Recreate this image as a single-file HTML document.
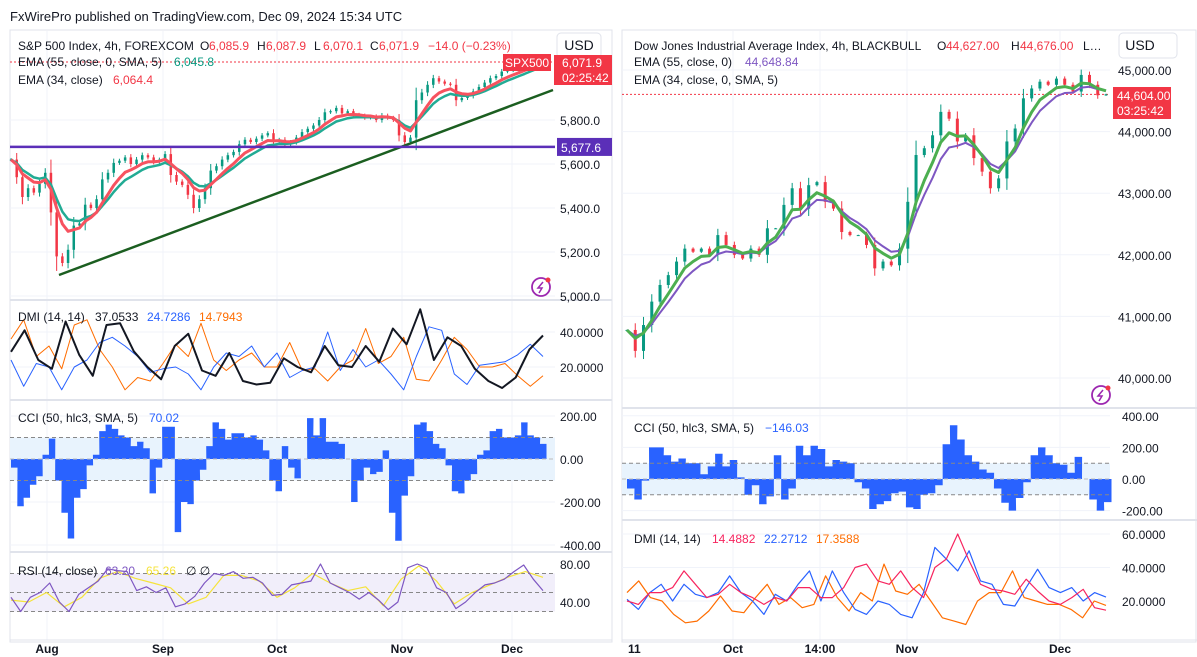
<!DOCTYPE html>
<html><head><meta charset="utf-8">
<style>
html,body{margin:0;padding:0;background:#fff;}
svg{display:block;font-family:"Liberation Sans",sans-serif;}
</style></head>
<body>
<svg id="c" width="1197" height="657" viewBox="0 0 1197 657">
<text x="10" y="21" font-size="13" fill="#131722">FxWirePro published on TradingView.com, Dec 09, 2024 15:34 UTC</text>
<g id="g"></g>
</svg>
<script>
// ---------- DATA ----------
// S&P 500 (left) closes, 4h
const spxClose=[5620,5540,5450,5490,5470,5510,5560,5380,5180,5150,5210,5320,5330,5415,5400,5440,5530,5560,5605,5615,5630,5600,5620,5640,5630,5610,5620,5645,5550,5520,5505,5460,5400,5440,5490,5570,5590,5620,5640,5655,5690,5710,5700,5715,5730,5740,5700,5710,5690,5700,5720,5745,5760,5775,5800,5835,5840,5855,5830,5840,5825,5820,5810,5815,5800,5820,5810,5800,5730,5700,5720,5890,5925,5960,5990,5975,5965,5960,5890,5900,5910,5930,5950,5970,5990,6000,6020,6025,6030,6040,6050,6065,6072];
const spxAdx=[28.7,41,24,19,46,27,15,44,45,29,20,13,32,39,18,15,28,12,10,11,25,20,17,32,21,20,32,23,42,33,53,24,37,32,19,12,8,14,30,38];
const spxPlusDI=[24,9,22,20,7,20,24,34,37,32,26,17,19,20,16,7,20,28,26,32,20,28,14,18,20,40,18,30,20,24,16,7,26,43,41,16,10,21,22,23,27,33,26];
const spxMinusDI=[36,47,26,32,19,44,47,30,20,7,14,12,22,33,26,45,24,18,24,28,20,20,34,18,19,12,20,24,42,22,26,37,13,12,24,37,30,20,20,22,15,9,15];
const spxCci=[-40,-220,-180,-120,-80,20,95,-100,-250,-370,-180,-140,-30,20,130,160,140,110,100,60,80,50,-160,-40,150,150,-340,-200,-210,-100,-50,60,170,140,90,120,120,100,110,90,40,-100,-150,60,-40,-90,0,190,110,190,80,80,70,0,-200,-100,-40,-70,-60,40,-250,-380,-170,-80,160,170,130,70,50,-30,-150,-160,-100,-70,20,40,130,140,100,100,110,170,110,100,70];
const spxRsi=[45,30,45,50,60,40,30,48,55,62,75,73,72,52,56,50,55,35,38,46,60,70,68,72,65,66,60,47,48,58,60,62,80,60,55,50,43,50,42,32,40,76,80,76,55,50,33,40,50,58,60,64,72,79,64,52];
const spxRsiMa=[42,40,50,35,45,65,72,65,60,55,38,45,68,68,62,45,55,70,60,52,56,36,64,78,62,38,50,58,66,72,66];
const spxTicks=[5800,5600,5400,5200,5000];
const spxTickLabels=["5,800.0","5,600.0","5,400.0","5,200.0","5,000.0"];
const spxLevel=5677.6;
const leftDates=["Aug","Sep","Oct","Nov","Dec"];
// Dow Jones (right)
const djiClose=[40780,40440,40860,41240,41510,41670,41890,42100,42050,42100,42000,42320,42160,42000,41940,42100,42000,42430,42430,42810,43080,42750,43130,43180,42860,42750,42370,42320,42320,42160,41780,41890,41830,42100,42860,43620,43730,43940,44320,44210,43840,43940,43570,43350,43080,43240,43840,44050,44540,44700,44810,44760,44860,44760,44650,44920,44760,44590,44604];
const djiCci=[-60,-130,-10,200,200,150,110,130,100,100,30,80,160,80,120,10,-100,-40,-160,-110,150,-130,-60,210,150,210,190,80,120,110,100,-20,-60,-190,-160,-140,-90,-80,-180,-190,-100,-90,-40,220,340,250,150,110,60,40,-60,-150,-200,-120,-20,150,200,150,100,90,40,140,0,-130,-200,-146];
const djiAdx=[20,18,25,25,28,38,30,22,24,30,25,22,18,22,20,28,28,22,22,28,40,42,32,30,38,28,22,40,45,60,44,30,27,26,24,33,26,20,18,22,27,16,14.5];
const djiPlusDI=[21,15,25,30,20,30,24,22,25,35,25,20,12,24,20,30,38,20,38,25,15,12,20,18,12,10,25,52,45,38,50,32,30,18,17,28,39,28,25,28,20,25,22.3];
const djiMinusDI=[25,32,22,20,12,7,8,14,23,14,13,22,30,18,22,16,18,35,22,14,25,20,42,26,24,30,20,10,8,6,20,25,25,38,22,20,18,18,15,10,20,17.4];
const djiTicks=[45000,44000,43000,42000,41000,40000];
const djiTickLabels=["45,000.00","44,000.00","43,000.00","42,000.00","41,000.00","40,000.00"];
const rightDates=["11","Oct","14:00","Nov","Dec"];

// ---------- HELPERS ----------
const NS="http://www.w3.org/2000/svg";
const G=document.getElementById('g');
function mk(tag,attrs,parent){const e=document.createElementNS(NS,tag);for(const k in attrs)e.setAttribute(k,attrs[k]);(parent||G).appendChild(e);return e;}
function txt(x,y,s,fill,size,anchor,weight){const t=mk('text',{x:x,y:y,fill:fill||'#131722','font-size':size||12,'text-anchor':anchor||'start','font-weight':weight||'normal'});t.textContent=s;return t;}
function ema(a,n){const k=2/(n+1);const o=[];let p=a[0];for(let i=0;i<a.length;i++){p=i?a[i]*k+p*(1-k):a[0];o.push(p);}return o;}
function xs(n,x0,x1){return i=>x0+i*(x1-x0)/(n-1);}
function poly(arr,xf,yf,color,w,name){let d='';arr.forEach((v,i)=>{d+=(i?'L':'M')+xf(i).toFixed(1)+' '+yf(v).toFixed(1);});const p=mk('path',{d:d,fill:'none',stroke:color,'stroke-width':w,'stroke-linejoin':'round'});


return p;}
function candles(arr,xf,yf,w,name){const g=mk('g',{});


arr.forEach((c,i)=>{const o=i?arr[i-1]:c;const up=c>=o;const col=up?'#089981':'#f23645';const x=xf(i);const sp=Math.abs(c-o);const hi=Math.max(o,c)+sp*0.3+6,lo=Math.min(o,c)-sp*0.3-6;
mk('line',{x1:x,x2:x,y1:yf(hi),y2:yf(lo),stroke:col,'stroke-width':1},g);
const y1=yf(Math.max(o,c)),y2=yf(Math.min(o,c));mk('rect',{x:x-w/2,y:y1,width:w,height:Math.max(1,y2-y1),fill:col},g);});}
function hist(arr,xf,yf,w,name){const g=mk('g',{});


let d='M'+xf(0)+' '+yf(0);arr.forEach((v,i)=>{d+='L'+xf(i).toFixed(1)+' '+yf(v).toFixed(1)+'L'+(xf(i)+w).toFixed(1)+' '+yf(v).toFixed(1);});d+='L'+(xf(arr.length-1)+w)+' '+yf(0)+'Z';
mk('path',{d:d,fill:'#2962ff'},g);}
function hline(x0,x1,y,col,dash,w){return mk('line',{x1:x0,x2:x1,y1:y,y2:y,stroke:col,'stroke-width':w||1,'stroke-dasharray':dash||''});}
function vline(x,y0,y1,col){return mk('line',{x1:x,x2:x,y1:y0,y2:y1,stroke:col,'stroke-width':1});}

// ---------- LEFT PANEL ----------
const LX0=11,LX1=536,LAX=555;
const lpy=v=>120+(5800-v)*0.22;
const ldy=v=>367-(v-20)*1.75;
const lcy=v=>459-v*0.215;
const lry=v=>602-(v-40)*0.95;
const leftDateX=[47,163,277,402,512];
mk('rect',{x:10,y:30,width:602,height:612,fill:'none',stroke:'#e0e3eb'});
leftDateX.forEach(x=>vline(x,31,640,'#f0f3fa'));
spxTicks.forEach(v=>hline(10,LAX,lpy(v),'#f0f3fa'));
[40,20].forEach(v=>hline(10,LAX,ldy(v),'#f0f3fa'));
[200,0,-200,-400].forEach(v=>hline(10,LAX,lcy(v),'#f0f3fa'));
[300,400,552].forEach(y=>hline(10,612,y,'#e0e3eb',null,2));
hline(10,612,640,'#e0e3eb');
// price
hline(10,LAX,62,'#f23645','2 2');
const lcx=xs(spxClose.length,LX0,LX1);
candles(spxClose,lcx,lpy,2.5,'spx-candles');
poly(ema(spxClose,9),lcx,lpy,'#22ab94',2.5,'spx-ema55');
poly(ema(spxClose,6),lcx,lpy,'#f7525f',3,'spx-ema34');
const tl=mk('line',{x1:59,y1:275,x2:553,y2:90,stroke:'#1b5e20','stroke-width':2.5});

const lvl=hline(10,LAX,lpy(spxLevel),'#5b2fb8',null,2.5);

// dmi
const ldx=n=>xs(n,LX0,543);
poly(spxMinusDI,ldx(spxMinusDI.length),ldy,'#ff6d00',1,'spx-minus-di');
poly(spxPlusDI,ldx(spxPlusDI.length),ldy,'#2962ff',1,'spx-plus-di');
poly(spxAdx,ldx(spxAdx.length),ldy,'#131722',2,'spx-adx');
// cci
mk('rect',{x:10,y:lcy(100),width:LAX-10,height:lcy(-100)-lcy(100),fill:'#e8f3fd'});
hist(spxCci,xs(spxCci.length,LX0,540),lcy,6.5,'spx-cci-histogram');
hline(10,LAX,lcy(100),'#888','4 3');hline(10,LAX,lcy(-100),'#888','4 3');hline(10,LAX,lcy(0),'#bbb','4 3');
// rsi
mk('rect',{x:10,y:lry(70),width:LAX-10,height:lry(30)-lry(70),fill:'#f1eefa'});
[70,50,30].forEach(v=>hline(10,LAX,lry(v),'#888','4 3'));
poly(spxRsiMa,xs(spxRsiMa.length,LX0,543),lry,'#f5e33b',1.2,'spx-rsi-ma');
poly(spxRsi,xs(spxRsi.length,LX0,543),lry,'#7e57c2',1.2,'spx-rsi');
// axis labels
spxTicks.forEach((v,i)=>txt(560,lpy(v)+5,spxTickLabels[i]));
[[40,'40.0000'],[20,'20.0000']].forEach(a=>txt(560,ldy(a[0])+5,a[1]));
[[200,'200.00'],[0,'0.00'],[-200,'-200.00'],[-400,'-400.00']].forEach(a=>txt(560,lcy(a[0])+5,a[1]));
[[80,'80.00'],[40,'40.00']].forEach(a=>txt(560,lry(a[0])+5,a[1]));
leftDates.forEach((d,i)=>txt(leftDateX[i],653,d,'#131722',12,'middle','bold'));
// tags
mk('rect',{x:557,y:33,width:44,height:25,rx:4,fill:'#fff',stroke:'#e0e3eb'});txt(579,50,'USD','#131722',14,'middle');
mk('rect',{x:557,y:lpy(spxLevel)-9,width:55,height:18,fill:'#5b2fb8'});txt(561,lpy(spxLevel)+5,'5,677.6','#fff',12);
mk('rect',{x:503,y:54,width:48,height:17,fill:'#f23645'});txt(527,67,'SPX500','#fff',12,'middle');
mk('rect',{x:554,y:55,width:58,height:30,fill:'#f23645'});txt(562,67,'6,071.9','#fff',12);txt(562,82,'02:25:42','#fff',12);
// legends
let t=txt(18,50,'S&P 500 Index, 4h, FOREXCOM','#131722',12);
const oh=[['O',200,'6,085.9'],['H',257,'6,087.9'],['L',314,'6,070.1'],['C',370,'6,071.9']];
oh.forEach(a=>{txt(a[1],50,a[0]);txt(a[1]+9,50,a[2],'#f23645');});
txt(428,50,'−14.0 (−0.23%)','#f23645');
txt(18,66,'EMA (55, close, 0, SMA, 5)');txt(174,66,'6,045.8','#089981');
txt(18,84,'EMA (34, close)');txt(113,84,'6,064.4','#f23645');
txt(18,321,'DMI (14, 14)');txt(95,321,'37.0533');txt(147,321,'24.7286','#2962ff');txt(199,321,'14.7943','#ff6d00');
txt(18,422,'CCI (50, hlc3, SMA, 5)');txt(149,422,'70.02','#2962ff');
txt(18,575,'RSI (14, close)');txt(105,575,'63.20','#7e57c2');txt(146,575,'65.26','#f5e33b');txt(186,575,'∅  ∅','#131722');

// ---------- RIGHT PANEL ----------
const RX0=627,RX1=1106,RAX=1110;
const rpy=v=>70+(45000-v)*0.0616;
const rcy=v=>479-v*0.158;
const rdy=v=>601-(v-20)*1.675;
const rightDateX=[628,733,820,907,1060];
mk('rect',{x:622,y:30,width:574,height:612,fill:'none',stroke:'#e0e3eb'});
rightDateX.slice(1).forEach(x=>vline(x,31,640,'#f0f3fa'));
djiTicks.forEach(v=>hline(622,RAX,rpy(v),'#f0f3fa'));
[400,200,0,-200].forEach(v=>hline(622,RAX,rcy(v),'#f0f3fa'));
[60,40,20].forEach(v=>hline(622,RAX,rdy(v),'#f0f3fa'));
[408,520].forEach(y=>hline(622,1197,y,'#e0e3eb',null,2));
hline(622,1197,640,'#e0e3eb');
hline(622,RAX,rpy(44604),'#f23645','2 2');
const rcx=xs(djiClose.length,RX0,RX1);
candles(djiClose,rcx,rpy,3,'dji-candles');
poly(ema(djiClose,6),rcx,rpy,'#7e57c2',2,'dji-ema55');
poly(ema(djiClose,4),rcx,rpy,'#4caf50',3,'dji-ema34');
mk('rect',{x:622,y:rcy(100),width:RAX-622,height:rcy(-100)-rcy(100),fill:'#e8f3fd'});
hist(djiCci,xs(djiCci.length,RX0,1104),rcy,7.5,'dji-cci-histogram');
hline(622,RAX,rcy(100),'#888','4 3');hline(622,RAX,rcy(-100),'#888','4 3');hline(622,RAX,rcy(0),'#bbb','4 3');
const rdx=n=>xs(n,RX0,1106);
poly(djiMinusDI,rdx(djiMinusDI.length),rdy,'#ff6d00',1.2,'dji-minus-di');
poly(djiPlusDI,rdx(djiPlusDI.length),rdy,'#2962ff',1.2,'dji-plus-di');
poly(djiAdx,rdx(djiAdx.length),rdy,'#f7255f',1.2,'dji-adx');
djiTicks.forEach((v,i)=>txt(1118,rpy(v)+5,djiTickLabels[i]));
[[400,'400.00'],[200,'200.00'],[0,'0.00'],[-200,'-200.00']].forEach(a=>txt(1122,rcy(a[0])+5,a[1]));
[[60,'60.0000'],[40,'40.0000'],[20,'20.0000']].forEach(a=>txt(1122,rdy(a[0])+5,a[1]));
rightDates.forEach((d,i)=>txt(rightDateX[i],653,d,'#131722',12,i?'middle':'start','bold'));
mk('rect',{x:1119,y:33,width:58,height:25,rx:4,fill:'#fff',stroke:'#e0e3eb'});txt(1140,50,'USD','#131722',14,'middle');
mk('rect',{x:1113,y:87,width:58,height:32,fill:'#f23645'});txt(1117,100,'44,604.00','#fff',12);txt(1117,115,'03:25:42','#fff',12);
txt(634,50,'Dow Jones Industrial Average Index, 4h, BLACKBULL');txt(937,50,'O');txt(946,50,'44,627.00','#f23645');txt(1011,50,'H');txt(1020,50,'44,676.00','#f23645');txt(1083,50,'L…');
txt(634,66,'EMA (55, close, 0)');txt(745,66,'44,648.84','#7e57c2');
txt(634,84,'EMA (34, close, 0, SMA, 5)');
txt(634,432,'CCI (50, hlc3, SMA, 5)');txt(765,432,'−146.03','#2962ff');
txt(634,543,'DMI (14, 14)');txt(712,543,'14.4882','#f7255f');txt(764,543,'22.2712','#2962ff');txt(816,543,'17.3588','#ff6d00');
// icons
[[541,287],[1101,395]].forEach((p,i)=>{const g=mk('g',{});


mk('circle',{cx:p[0],cy:p[1],r:9,fill:'#fff',stroke:'#9c27b0','stroke-width':1.8},g);
mk('path',{d:`M${p[0]+2} ${p[1]-5}L${p[0]-3} ${p[1]+1}H${p[0]+1}L${p[0]-2} ${p[1]+6}`,fill:'none',stroke:'#9c27b0','stroke-width':1.5},g);
mk('circle',{cx:p[0]+7,cy:p[1]-7,r:2.5,fill:'#f23645'},g);});
</script>
</body></html>
